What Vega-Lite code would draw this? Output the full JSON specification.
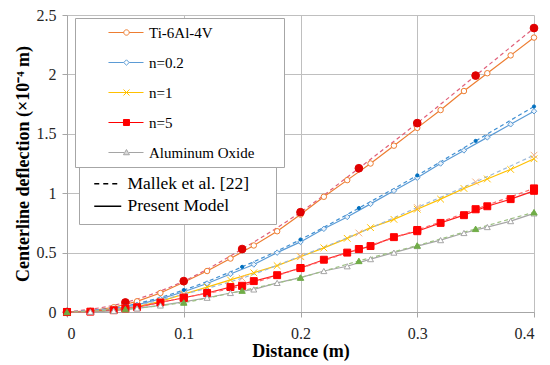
{
  "$schema": "https://vega.github.io/schema/vega-lite/v6.json",
  "width": 467,
  "height": 297,
  "autosize": "none",
  "padding": {"left": 67, "top": 15, "right": 16, "bottom": 53},
  "background": "white",
  "config": {
    "view": {"stroke": null},
    "font": "Liberation Serif",
    "axis": {
      "gridColor": "#BFBFBF",
      "domainColor": "#A6A6A6",
      "tickColor": "#A6A6A6",
      "tickSize": 5,
      "labelFont": "Liberation Serif",
      "labelFontSize": 16,
      "labelColor": "#262626",
      "titleFont": "Liberation Serif",
      "titleFontSize": 18,
      "titleFontWeight": "bold",
      "titleColor": "black"
    }
  },
  "datasets": {
    "present": [
      {"series": "Ti-6Al-4V", "distance": 0, "deflection": 0},
      {"series": "Ti-6Al-4V", "distance": 0.02, "deflection": 0.01},
      {"series": "Ti-6Al-4V", "distance": 0.04, "deflection": 0.04},
      {"series": "Ti-6Al-4V", "distance": 0.06, "deflection": 0.09},
      {"series": "Ti-6Al-4V", "distance": 0.08, "deflection": 0.16},
      {"series": "Ti-6Al-4V", "distance": 0.1, "deflection": 0.25},
      {"series": "Ti-6Al-4V", "distance": 0.12, "deflection": 0.345},
      {"series": "Ti-6Al-4V", "distance": 0.14, "deflection": 0.45},
      {"series": "Ti-6Al-4V", "distance": 0.16, "deflection": 0.56},
      {"series": "Ti-6Al-4V", "distance": 0.18, "deflection": 0.68},
      {"series": "Ti-6Al-4V", "distance": 0.2, "deflection": 0.82},
      {"series": "Ti-6Al-4V", "distance": 0.22, "deflection": 0.97},
      {"series": "Ti-6Al-4V", "distance": 0.24, "deflection": 1.11},
      {"series": "Ti-6Al-4V", "distance": 0.26, "deflection": 1.25},
      {"series": "Ti-6Al-4V", "distance": 0.28, "deflection": 1.4},
      {"series": "Ti-6Al-4V", "distance": 0.3, "deflection": 1.55},
      {"series": "Ti-6Al-4V", "distance": 0.32, "deflection": 1.7},
      {"series": "Ti-6Al-4V", "distance": 0.34, "deflection": 1.86},
      {"series": "Ti-6Al-4V", "distance": 0.36, "deflection": 2.01},
      {"series": "Ti-6Al-4V", "distance": 0.38, "deflection": 2.16},
      {"series": "Ti-6Al-4V", "distance": 0.4, "deflection": 2.31},
      {"series": "n=0.2", "distance": 0, "deflection": 0},
      {"series": "n=0.2", "distance": 0.02, "deflection": 0.005},
      {"series": "n=0.2", "distance": 0.04, "deflection": 0.025},
      {"series": "n=0.2", "distance": 0.06, "deflection": 0.06},
      {"series": "n=0.2", "distance": 0.08, "deflection": 0.11},
      {"series": "n=0.2", "distance": 0.1, "deflection": 0.17},
      {"series": "n=0.2", "distance": 0.12, "deflection": 0.24},
      {"series": "n=0.2", "distance": 0.14, "deflection": 0.32},
      {"series": "n=0.2", "distance": 0.16, "deflection": 0.4},
      {"series": "n=0.2", "distance": 0.18, "deflection": 0.5},
      {"series": "n=0.2", "distance": 0.2, "deflection": 0.59},
      {"series": "n=0.2", "distance": 0.22, "deflection": 0.7},
      {"series": "n=0.2", "distance": 0.24, "deflection": 0.8},
      {"series": "n=0.2", "distance": 0.26, "deflection": 0.91},
      {"series": "n=0.2", "distance": 0.28, "deflection": 1.02},
      {"series": "n=0.2", "distance": 0.3, "deflection": 1.13},
      {"series": "n=0.2", "distance": 0.32, "deflection": 1.25},
      {"series": "n=0.2", "distance": 0.34, "deflection": 1.36},
      {"series": "n=0.2", "distance": 0.36, "deflection": 1.47},
      {"series": "n=0.2", "distance": 0.38, "deflection": 1.58},
      {"series": "n=0.2", "distance": 0.4, "deflection": 1.69},
      {"series": "n=1", "distance": 0, "deflection": 0},
      {"series": "n=1", "distance": 0.02, "deflection": 0.004},
      {"series": "n=1", "distance": 0.04, "deflection": 0.02},
      {"series": "n=1", "distance": 0.06, "deflection": 0.045},
      {"series": "n=1", "distance": 0.08, "deflection": 0.09},
      {"series": "n=1", "distance": 0.1, "deflection": 0.15},
      {"series": "n=1", "distance": 0.12, "deflection": 0.21},
      {"series": "n=1", "distance": 0.14, "deflection": 0.27},
      {"series": "n=1", "distance": 0.16, "deflection": 0.33},
      {"series": "n=1", "distance": 0.18, "deflection": 0.39},
      {"series": "n=1", "distance": 0.2, "deflection": 0.465},
      {"series": "n=1", "distance": 0.22, "deflection": 0.54},
      {"series": "n=1", "distance": 0.24, "deflection": 0.62},
      {"series": "n=1", "distance": 0.26, "deflection": 0.71},
      {"series": "n=1", "distance": 0.28, "deflection": 0.78},
      {"series": "n=1", "distance": 0.3, "deflection": 0.865},
      {"series": "n=1", "distance": 0.32, "deflection": 0.95},
      {"series": "n=1", "distance": 0.34, "deflection": 1.04},
      {"series": "n=1", "distance": 0.36, "deflection": 1.12},
      {"series": "n=1", "distance": 0.38, "deflection": 1.2},
      {"series": "n=1", "distance": 0.4, "deflection": 1.29},
      {"series": "n=5", "distance": 0, "deflection": 0},
      {"series": "n=5", "distance": 0.02, "deflection": 0.003},
      {"series": "n=5", "distance": 0.04, "deflection": 0.015},
      {"series": "n=5", "distance": 0.06, "deflection": 0.04},
      {"series": "n=5", "distance": 0.08, "deflection": 0.08},
      {"series": "n=5", "distance": 0.1, "deflection": 0.12},
      {"series": "n=5", "distance": 0.12, "deflection": 0.16},
      {"series": "n=5", "distance": 0.14, "deflection": 0.21},
      {"series": "n=5", "distance": 0.16, "deflection": 0.26},
      {"series": "n=5", "distance": 0.18, "deflection": 0.31},
      {"series": "n=5", "distance": 0.2, "deflection": 0.37},
      {"series": "n=5", "distance": 0.22, "deflection": 0.44},
      {"series": "n=5", "distance": 0.24, "deflection": 0.5},
      {"series": "n=5", "distance": 0.26, "deflection": 0.555},
      {"series": "n=5", "distance": 0.28, "deflection": 0.63},
      {"series": "n=5", "distance": 0.3, "deflection": 0.68},
      {"series": "n=5", "distance": 0.32, "deflection": 0.75},
      {"series": "n=5", "distance": 0.34, "deflection": 0.815},
      {"series": "n=5", "distance": 0.36, "deflection": 0.89},
      {"series": "n=5", "distance": 0.38, "deflection": 0.95},
      {"series": "n=5", "distance": 0.4, "deflection": 1.02},
      {"series": "Aluminum Oxide", "distance": 0, "deflection": 0},
      {"series": "Aluminum Oxide", "distance": 0.02, "deflection": 0.002},
      {"series": "Aluminum Oxide", "distance": 0.04, "deflection": 0.01},
      {"series": "Aluminum Oxide", "distance": 0.06, "deflection": 0.03},
      {"series": "Aluminum Oxide", "distance": 0.08, "deflection": 0.055},
      {"series": "Aluminum Oxide", "distance": 0.1, "deflection": 0.085},
      {"series": "Aluminum Oxide", "distance": 0.12, "deflection": 0.12},
      {"series": "Aluminum Oxide", "distance": 0.14, "deflection": 0.16},
      {"series": "Aluminum Oxide", "distance": 0.16, "deflection": 0.19},
      {"series": "Aluminum Oxide", "distance": 0.18, "deflection": 0.245},
      {"series": "Aluminum Oxide", "distance": 0.2, "deflection": 0.29},
      {"series": "Aluminum Oxide", "distance": 0.22, "deflection": 0.345},
      {"series": "Aluminum Oxide", "distance": 0.24, "deflection": 0.385},
      {"series": "Aluminum Oxide", "distance": 0.26, "deflection": 0.445},
      {"series": "Aluminum Oxide", "distance": 0.28, "deflection": 0.5},
      {"series": "Aluminum Oxide", "distance": 0.3, "deflection": 0.555},
      {"series": "Aluminum Oxide", "distance": 0.32, "deflection": 0.605},
      {"series": "Aluminum Oxide", "distance": 0.34, "deflection": 0.665},
      {"series": "Aluminum Oxide", "distance": 0.36, "deflection": 0.715},
      {"series": "Aluminum Oxide", "distance": 0.38, "deflection": 0.765},
      {"series": "Aluminum Oxide", "distance": 0.4, "deflection": 0.83}
    ],
    "mallek": [
      {"series": "Ti-6Al-4V", "distance": 0, "deflection": 0},
      {"series": "Ti-6Al-4V", "distance": 0.05, "deflection": 0.08},
      {"series": "Ti-6Al-4V", "distance": 0.1, "deflection": 0.26},
      {"series": "Ti-6Al-4V", "distance": 0.15, "deflection": 0.53},
      {"series": "Ti-6Al-4V", "distance": 0.2, "deflection": 0.84},
      {"series": "Ti-6Al-4V", "distance": 0.25, "deflection": 1.21},
      {"series": "Ti-6Al-4V", "distance": 0.3, "deflection": 1.59},
      {"series": "Ti-6Al-4V", "distance": 0.35, "deflection": 1.99},
      {"series": "Ti-6Al-4V", "distance": 0.4, "deflection": 2.39},
      {"series": "n=0.2", "distance": 0, "deflection": 0},
      {"series": "n=0.2", "distance": 0.05, "deflection": 0.05},
      {"series": "n=0.2", "distance": 0.1, "deflection": 0.185},
      {"series": "n=0.2", "distance": 0.15, "deflection": 0.38},
      {"series": "n=0.2", "distance": 0.2, "deflection": 0.61},
      {"series": "n=0.2", "distance": 0.25, "deflection": 0.875},
      {"series": "n=0.2", "distance": 0.3, "deflection": 1.15},
      {"series": "n=0.2", "distance": 0.35, "deflection": 1.44},
      {"series": "n=0.2", "distance": 0.4, "deflection": 1.73},
      {"series": "n=1", "distance": 0, "deflection": 0},
      {"series": "n=1", "distance": 0.05, "deflection": 0.04},
      {"series": "n=1", "distance": 0.1, "deflection": 0.15},
      {"series": "n=1", "distance": 0.15, "deflection": 0.285},
      {"series": "n=1", "distance": 0.2, "deflection": 0.47},
      {"series": "n=1", "distance": 0.25, "deflection": 0.665},
      {"series": "n=1", "distance": 0.3, "deflection": 0.88},
      {"series": "n=1", "distance": 0.35, "deflection": 1.095},
      {"series": "n=1", "distance": 0.4, "deflection": 1.32},
      {"series": "n=5", "distance": 0, "deflection": 0},
      {"series": "n=5", "distance": 0.05, "deflection": 0.03},
      {"series": "n=5", "distance": 0.1, "deflection": 0.12},
      {"series": "n=5", "distance": 0.15, "deflection": 0.22},
      {"series": "n=5", "distance": 0.2, "deflection": 0.37},
      {"series": "n=5", "distance": 0.25, "deflection": 0.53},
      {"series": "n=5", "distance": 0.3, "deflection": 0.69},
      {"series": "n=5", "distance": 0.35, "deflection": 0.865},
      {"series": "n=5", "distance": 0.4, "deflection": 1.04},
      {"series": "Aluminum Oxide", "distance": 0, "deflection": 0},
      {"series": "Aluminum Oxide", "distance": 0.05, "deflection": 0.025},
      {"series": "Aluminum Oxide", "distance": 0.1, "deflection": 0.08},
      {"series": "Aluminum Oxide", "distance": 0.15, "deflection": 0.18},
      {"series": "Aluminum Oxide", "distance": 0.2, "deflection": 0.29},
      {"series": "Aluminum Oxide", "distance": 0.25, "deflection": 0.43},
      {"series": "Aluminum Oxide", "distance": 0.3, "deflection": 0.56},
      {"series": "Aluminum Oxide", "distance": 0.35, "deflection": 0.7},
      {"series": "Aluminum Oxide", "distance": 0.4, "deflection": 0.84}
    ]
  },
  "encoding": {
    "x": {
      "field": "distance",
      "type": "quantitative",
      "scale": {"domain": [0, 0.4], "nice": false, "zero": false},
      "axis": {
        "values": [0, 0.1, 0.2, 0.3, 0.4],
        "format": "~g",
        "grid": true,
        "labelFont": "Liberation Serif",
        "labelPadding": 8,
        "titlePadding": 1,
        "title": "Distance (m)"
      }
    },
    "y": {
      "field": "deflection",
      "type": "quantitative",
      "scale": {"domain": [0, 2.5], "nice": false},
      "axis": {
        "values": [0, 0.5, 1, 1.5, 2, 2.5],
        "format": "~g",
        "grid": true,
        "labelFont": "Liberation Serif",
        "labelPadding": 6,
        "titlePadding": 4,
        "title": "Centerline deflection (×10⁻⁴ m)"
      }
    }
  },
  "layer": [
    {
      "data": {"name": "present"},
      "mark": {"type": "line", "strokeWidth": 1.2},
      "encoding": {
        "color": {
          "field": "series",
          "type": "nominal",
          "scale": {
            "domain": ["Ti-6Al-4V", "n=0.2", "n=1", "n=5", "Aluminum Oxide"],
            "range": ["#ED7D31", "#5B9BD5", "#FFC000", "#FF2020", "#A5A5A5"]
          },
          "legend": null
        }
      }
    },
    {
      "data": {"name": "mallek"},
      "mark": {"type": "line", "strokeWidth": 1.2, "strokeDash": [4, 3], "interpolate": "monotone"},
      "encoding": {
        "color": {
          "field": "series",
          "type": "nominal",
          "scale": {
            "domain": ["Ti-6Al-4V", "n=0.2", "n=1", "n=5", "Aluminum Oxide"],
            "range": ["#E0607A", "#3F8FD2", "#9DB8D8", "#FF6666", "#9DC183"]
          },
          "legend": null
        }
      }
    },
    {
      "data": {"name": "present"},
      "mark": {"type": "point", "filled": true, "opacity": 1, "strokeWidth": 1},
      "encoding": {
        "shape": {
          "field": "series",
          "type": "nominal",
          "scale": {
            "domain": ["Ti-6Al-4V", "n=0.2", "n=1", "n=5", "Aluminum Oxide"],
            "range": ["circle", "diamond", "M-1,-1L1,1M-1,1L1,-1", "square", "triangle-up"]
          },
          "legend": null
        },
        "fill": {
          "field": "series",
          "type": "nominal",
          "scale": {
            "domain": ["Ti-6Al-4V", "n=0.2", "n=1", "n=5", "Aluminum Oxide"],
            "range": ["white", "#EAF2FA", "white", "#FF0000", "white"]
          },
          "legend": null
        },
        "stroke": {
          "field": "series",
          "type": "nominal",
          "scale": {
            "domain": ["Ti-6Al-4V", "n=0.2", "n=1", "n=5", "Aluminum Oxide"],
            "range": ["#ED7D31", "#5B9BD5", "#FFC000", "#FF0000", "#A5A5A5"]
          },
          "legend": null
        },
        "size": {
          "field": "series",
          "type": "nominal",
          "scale": {
            "type": "ordinal",
            "domain": ["Ti-6Al-4V", "n=0.2", "n=1", "n=5", "Aluminum Oxide"],
            "range": [30, 30, 45, 48, 36]
          },
          "legend": null
        }
      }
    },
    {
      "data": {"name": "mallek"},
      "mark": {"type": "point", "filled": true, "opacity": 1, "strokeWidth": 1},
      "encoding": {
        "shape": {
          "field": "series",
          "type": "nominal",
          "scale": {
            "domain": ["Ti-6Al-4V", "n=0.2", "n=1", "n=5", "Aluminum Oxide"],
            "range": ["circle", "circle", "M-1,-1L1,1M-1,1L1,-1", "square", "triangle-up"]
          },
          "legend": null
        },
        "fill": {
          "field": "series",
          "type": "nominal",
          "scale": {
            "domain": ["Ti-6Al-4V", "n=0.2", "n=1", "n=5", "Aluminum Oxide"],
            "range": ["#E00000", "#0070C0", "white", "#FF0000", "#70AD47"]
          },
          "legend": null
        },
        "stroke": {
          "field": "series",
          "type": "nominal",
          "scale": {
            "domain": ["Ti-6Al-4V", "n=0.2", "n=1", "n=5", "Aluminum Oxide"],
            "range": ["#E00000", "#0070C0", "#F4B183", "#FF0000", "#70AD47"]
          },
          "legend": null
        },
        "size": {
          "field": "series",
          "type": "nominal",
          "scale": {
            "type": "ordinal",
            "domain": ["Ti-6Al-4V", "n=0.2", "n=1", "n=5", "Aluminum Oxide"],
            "range": [60, 10, 45, 50, 40]
          },
          "legend": null
        }
      }
    },
    {
      "data": {"name": "present"},
      "transform": [{"filter": "false"}],
      "mark": {"type": "point", "filled": true, "opacity": 1, "strokeWidth": 1},
      "encoding": {
        "shape": {
          "field": "series",
          "type": "nominal",
          "scale": {
            "domain": ["Ti-6Al-4V", "n=0.2", "n=1", "n=5", "Aluminum Oxide"],
            "range": [
              "M2.53,0H4.57M5.29,0H7.2M4.57,0A0.36,0.36 0 1,1 5.29,0A0.36,0.36 0 1,1 4.57,0Z",
              "M2.53,0H4.57M5.29,0H7.2M4.57,0L4.93,-0.36L5.29,0L4.93,0.36Z",
              "M2.53,0H7.2M4.53,-0.4L5.33,0.4M4.53,0.4L5.33,-0.4",
              "M2.53,0H7.2M4.53,-0.4H5.33V0.4H4.53Z",
              "M2.53,0H4.6M5.26,0H7.2M4.93,-0.4L5.33,0.3L4.53,0.3Z"
            ]
          },
          "legend": {
            "title": null, "orient": "none", "legendX": 8, "legendY": 3, "padding": 6.5,
            "fillColor": "white", "strokeColor": "#A6A6A6", "symbolSize": 225,
            "symbolStrokeWidth": 1, "symbolOpacity": 1, "labelFont": "Liberation Serif",
            "labelFontSize": 15, "labelColor": "black", "labelOffset": 51.5, "rowPadding": 14,
            "labelLimit": 400,
            "labelExpr": "datum.label + '\u00a0\u00a0\u00a0\u00a0\u00a0\u00a0\u200b'"
          }
        },
        "stroke": {
          "field": "series",
          "type": "nominal",
          "scale": {
            "domain": ["Ti-6Al-4V", "n=0.2", "n=1", "n=5", "Aluminum Oxide"],
            "range": ["#ED7D31", "#5B9BD5", "#FFC000", "#FF0000", "#A5A5A5"]
          },
          "legend": {
            "title": null, "orient": "none", "legendX": 8, "legendY": 3, "padding": 6.5,
            "fillColor": "white", "strokeColor": "#A6A6A6", "symbolSize": 225,
            "symbolStrokeWidth": 1, "symbolOpacity": 1, "labelFont": "Liberation Serif",
            "labelFontSize": 15, "labelColor": "black", "labelOffset": 51.5, "rowPadding": 14,
            "labelLimit": 400,
            "labelExpr": "datum.label + '\u00a0\u00a0\u00a0\u00a0\u00a0\u00a0\u200b'"
          }
        },
        "fill": {
          "field": "series",
          "type": "nominal",
          "scale": {
            "domain": ["Ti-6Al-4V", "n=0.2", "n=1", "n=5", "Aluminum Oxide"],
            "range": ["white", "white", "white", "#FF0000", "#D9D9D9"]
          },
          "legend": {
            "title": null, "orient": "none", "legendX": 8, "legendY": 3, "padding": 6.5,
            "fillColor": "white", "strokeColor": "#A6A6A6", "symbolSize": 225,
            "symbolStrokeWidth": 1, "symbolOpacity": 1, "labelFont": "Liberation Serif",
            "labelFontSize": 15, "labelColor": "black", "labelOffset": 51.5, "rowPadding": 14,
            "labelLimit": 400,
            "labelExpr": "datum.label + '\u00a0\u00a0\u00a0\u00a0\u00a0\u00a0\u200b'"
          }
        }
      }
    },
    {
      "data": {"name": "present"},
      "transform": [{"filter": "false"}],
      "mark": {"type": "line", "color": "black", "strokeWidth": 1.5},
      "encoding": {
        "strokeDash": {
          "field": "model",
          "type": "nominal",
          "scale": {
            "domain": ["Mallek et al. [22]", "Present Model"],
            "range": [[5, 4], [1, 0]]
          },
          "legend": {
            "title": null, "orient": "none", "legendX": 12, "legendY": 151, "padding": 9,
            "fillColor": "white", "strokeColor": "#A6A6A6",
            "symbolType": "M-0.333,0H3.267", "symbolSize": 225,
            "symbolStrokeColor": "black", "symbolStrokeWidth": 1.5, "symbolOpacity": 1,
            "labelFont": "Liberation Serif", "labelFontSize": 17.5, "labelColor": "black",
            "labelOffset": 22, "rowPadding": 3.5, "labelLimit": 400,
            "labelExpr": "datum.label + '\u00a0\u00a0\u00a0\u00a0\u200b'"
          }
        }
      }
    }
  ],
  "resolve": {
    "scale": {
      "color": "independent",
      "shape": "independent",
      "fill": "independent",
      "stroke": "independent",
      "size": "independent"
    }
  }
}
